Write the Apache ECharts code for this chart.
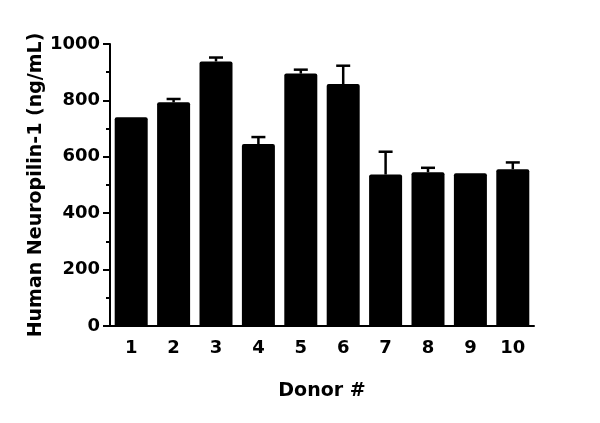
<!DOCTYPE html>
<html>
<head>
<meta charset="utf-8">
<script src="https://cdn.jsdelivr.net/npm/echarts@6/dist/echarts.min.js"></script>
<style>
  html, body { margin: 0; padding: 0; background: #fff; }
  #chart { width: 600px; height: 423px; }
</style>
</head>
<body>
<div id="chart"></div>
<script>
// donors on the x axis
const donors = ['1', '2', '3', '4', '5', '6', '7', '8', '9', '10']
// mean concentration (ng/mL)
const means = [740, 793, 938, 645, 895, 858, 537, 545, 542, 556]
// top of the error bar (mean + SD), null where no bar shows
const errTops = [null, 805, 952, 670, 909, 923, 618, 561, null, 580]
const yTicks = [0, 200, 400, 600, 800, 1000]

const font = 'DejaVu Sans'

const chart = echarts.init(document.getElementById('chart'))

const option = {
    animation: false,
    grid: { left: 110, right: 66, top: 44, bottom: 97 },
    xAxis: {
        type: 'category',
        data: donors,
        name: 'Donor #',
        nameLocation: 'middle',
        nameGap: 56,
        nameTextStyle: { color: '#000', fontFamily: font, fontWeight: 'bold', fontSize: 19 },
        axisLine: { lineStyle: { color: '#000', width: 2 } },
        axisTick: { alignWithLabel: true, length: 7, lineStyle: { color: '#000', width: 2 } },
        axisLabel: { color: '#000', fontFamily: font, fontWeight: 'bold', fontSize: 18, margin: 13 },
    },
    yAxis: {
        type: 'value',
        min: yTicks[0],
        max: yTicks[yTicks.length - 1],
        interval: 200,
        name: 'Human Neuropilin-1 (ng/mL)',
        nameLocation: 'middle',
        nameGap: 64,
        nameMoveOverlap: false,
        nameTextStyle: { color: '#000', fontFamily: font, fontWeight: 'bold', fontSize: 19 },
        axisLine: { show: true, lineStyle: { color: '#000', width: 2 } },
        axisTick: { show: true, length: 7, lineStyle: { color: '#000', width: 2 } },
        minorTick: { show: true, splitNumber: 2, length: 4, lineStyle: { color: '#000', width: 2 } },
        splitLine: { show: false },
        axisLabel: {
            color: '#000', fontFamily: font, fontWeight: 'bold', fontSize: 18, margin: 10,
            formatter: v => String(v),
        },
    },
    series: [
        {
            type: 'bar',
            data: means,
            barWidth: 33,
            itemStyle: { color: '#000', borderRadius: [2, 2, 0, 0] },
            z: 2,
        },
        {
            // upward error bars
            type: 'custom',
            data: donors.map((d, i) => [i, means[i], errTops[i]]),
            renderItem: function (params, api) {
                if (api.value(2) == null || isNaN(api.value(2))) return
                const base = api.coord([api.value(0), api.value(1)])
                const top = api.coord([api.value(0), api.value(2)])
                const half = 7
                const style = { stroke: '#000', lineWidth: 2.5 }
                return {
                    type: 'group',
                    children: [
                        { type: 'line', shape: { x1: base[0], y1: base[1], x2: top[0], y2: top[1] }, style },
                        { type: 'line', shape: { x1: top[0] - half, y1: top[1], x2: top[0] + half, y2: top[1] }, style },
                    ],
                }
            },
            z: 3,
        },
    ],
}

chart.setOption(option)
</script>
</body>
</html>
